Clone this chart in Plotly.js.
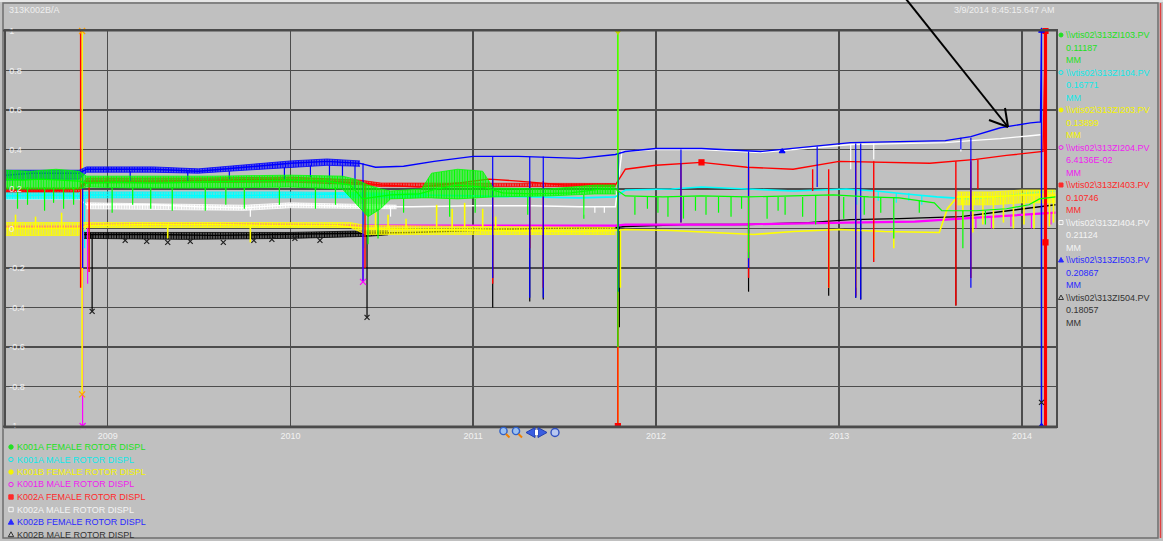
<!DOCTYPE html>
<html>
<head>
<meta charset="utf-8">
<script src="https://cdn.plot.ly/plotly-3.0.1.min.js"></script>
<style>
  html, body { margin: 0; padding: 0; background: #c0c0c0; }
  #chart { width: 1163px; height: 541px; }
</style>
</head>
<body>
<div id="chart"></div>
<script>
// ---------- axis ticks ----------
const yearTicks = ['2009-01-01', '2010-01-01', '2011-01-01', '2012-01-01', '2013-01-01', '2014-01-01'];
const yearLabels = ['2009', '2010', '2011', '2012', '2013', '2014'];
const valueTicks = [-1, -0.8, -0.6, -0.4, -0.2, 0, 0.2, 0.4, 0.6, 0.8, 1];
const valueLabels = ['-1', '-0.8', '-0.6', '-0.4', '-0.2', '0', '0.2', '0.4', '0.6', '0.8', '1'];

// ---------- pen descriptions ----------
const penNames = ['K001A FEMALE ROTOR DISPL', 'K001A MALE ROTOR DISPL', 'K001B FEMALE ROTOR DISPL', 'K001B MALE ROTOR DISPL',
                  'K002A FEMALE ROTOR DISPL', 'K002A MALE ROTOR DISPL', 'K002B FEMALE ROTOR DISPL', 'K002B MALE ROTOR DISPL'];
const penTags = ['\\\\vtis02\\313ZI103.PV', '\\\\vtis02\\313ZI104.PV', '\\\\vtis02\\313ZI203.PV', '\\\\vtis02\\313ZI204.PV',
                 '\\\\vtis02\\313ZI403.PV', '\\\\vtis02\\313ZI404.PV', '\\\\vtis02\\313ZI503.PV', '\\\\vtis02\\313ZI504.PV'];
const penReadings = ['0.11187', '0.16771', '0.13899', '6.4136E-02', '0.10746', '0.21124', '0.20867', '0.18057'];
const penUnits = ['MM', 'MM', 'MM', 'MM', 'MM', 'MM', 'MM', 'MM'];

// ---------- K001A female (green) ----------
const green = [['2008-06-12',0.25],['2008-07-15',0.245],['2008-08-20',0.25],['2008-09-25',0.245],['2008-11-05',0.24],['2008-11-20',0.23],
  ['2009-01-15',0.235],['2009-04-01',0.23],['2009-07-01',0.235],['2009-10-01',0.24],['2010-01-01',0.245],['2010-03-15',0.24],['2010-05-01',0.22],
  ['2010-05-25',0.15],['2010-06-20',0.16],['2010-07-20',0.17],['2010-09-15',0.175],['2010-10-20',0.2],['2010-12-01',0.22],['2011-01-20',0.21],
  ['2011-03-01',0.18],['2011-05-01',0.175],['2011-07-15',0.18],['2011-09-15',0.2],['2011-10-12',0.2],['2011-11-01',0.165],['2012-01-15',0.16],
  ['2012-04-01',0.165],['2012-07-01',0.16],['2012-10-01',0.165],['2012-12-20',0.17],['2013-03-01',0.16],['2013-05-01',0.155],['2013-07-10',0.13],
  ['2013-07-25',0.09],['2013-10-01',0.09],['2013-12-01',0.1],['2014-01-15',0.12],['2014-02-05',0.15],['2014-03-09',0.16]];
const greenBand = [['2008-06-12',0.295,0.2],['2008-08-01',0.29,0.2],['2008-09-20',0.3,0.2],['2008-11-05',0.29,0.2],['2008-11-20',0.265,0.21],
  ['2009-03-01',0.265,0.205],['2009-08-01',0.265,0.205],['2010-01-01',0.27,0.21],['2010-04-15',0.265,0.2],['2010-05-10',0.25,0.13],['2010-06-05',0.22,0.06],
  ['2010-06-30',0.2,0.1],['2010-07-20',0.19,0.15],['2010-09-20',0.2,0.155],['2010-10-10',0.28,0.155],['2010-12-01',0.3,0.15],['2011-01-20',0.29,0.155],
  ['2011-02-10',0.205,0.16],['2011-06-01',0.2,0.165],['2011-09-01',0.22,0.175],['2011-10-12',0.22,0.175]];
const greenDips = [['2008-07-05',0.21,0.1],['2008-07-25',0.21,0.12],['2008-08-28',0.21,0.09],['2008-09-15',0.21,0.13],['2008-10-05',0.21,0.1],
  ['2008-10-25',0.21,0.12],['2009-01-10',0.21,0.08],['2009-02-20',0.21,0.12],['2009-03-28',0.21,0.1],['2009-05-10',0.21,0.09],['2009-07-15',0.21,0.09],
  ['2009-08-25',0.21,0.12],['2009-10-01',0.21,0.1],['2009-12-10',0.21,0.12],['2010-02-20',0.21,0.1],['2010-04-01',0.21,0.12],['2010-06-05',0.1,-0.08],
  ['2010-06-25',0.1,-0.05],['2010-08-15',0.15,0.08],['2010-11-15',0.15,0.06],['2011-01-05',0.15,0.08],['2011-04-20',0.16,0.07],['2011-08-10',0.17,0.05],
  ['2011-10-17',1.0,-0.6],['2011-11-20',0.16,0.07],['2011-12-15',0.16,0.1],['2012-01-05',0.16,0.08],['2012-01-25',0.16,0.06],['2012-02-25',0.16,0.05],
  ['2012-03-20',0.16,0.09],['2012-04-10',0.16,0.07],['2012-05-05',0.16,0.08],['2012-05-30',0.16,0.06],['2012-06-20',0.16,0.1],['2012-07-04',0.16,-0.15],
  ['2012-08-10',0.16,0.05],['2012-09-01',0.16,0.09],['2012-09-15',0.16,0.07],['2012-10-20',0.16,0.06],['2012-11-15',0.17,0.02],['2013-01-10',0.16,0.05],
  ['2013-02-20',0.16,0.07],['2013-03-25',0.16,0.08],['2013-04-20',0.16,-0.05],['2013-06-10',0.14,0.08],['2013-09-05',0.09,-0.1],['2013-10-20',0.09,0.02]];
const greenMarks = [['2011-10-17',1.0]];

// ---------- K001A male (cyan) ----------
const cyan = [['2008-06-12',0.165],['2008-09-01',0.17],['2008-11-05',0.165],['2008-11-25',0.17],['2009-04-01',0.17],['2009-08-01',0.165],
  ['2009-12-01',0.17],['2010-04-01',0.175],['2010-06-01',0.17],['2010-09-01',0.17],['2011-01-01',0.165],['2011-05-01',0.16],['2011-08-01',0.155],
  ['2011-10-12',0.16],['2011-11-01',0.195],['2012-02-01',0.2],['2012-04-01',0.21],['2012-07-01',0.2],['2012-10-01',0.19],['2013-01-15',0.2],
  ['2013-03-15',0.19],['2013-05-15',0.175],['2013-07-15',0.16],['2013-09-15',0.15],['2013-11-15',0.16],['2014-01-15',0.18],['2014-03-09',0.19]];
const cyanBand = [['2008-06-12',0.185,0.15],['2008-11-05',0.185,0.15],['2008-11-25',0.185,0.155],['2010-01-01',0.185,0.155],['2010-07-01',0.18,0.155],
  ['2010-10-01',0.178,0.16]];
const cyanDips = [['2008-11-16',0.16,-0.1],['2010-05-28',0.17,-0.1],['2011-10-18',0.16,-0.3],['2013-02-05',0.19,0.12],['2013-03-20',0.19,0.14],
  ['2013-04-25',0.18,0.13],['2013-05-20',0.18,0.14],['2013-06-15',0.17,0.12]];

// ---------- K001B female (yellow) ----------
const yellow = [['2008-06-12',0.0],['2008-09-01',0.0],['2008-11-05',0.0],['2008-11-20',0.015],['2009-04-01',0.02],['2009-08-01',0.02],
  ['2009-12-01',0.015],['2010-04-01',0.015],['2010-06-01',0.0],['2010-09-01',-0.005],['2011-01-01',-0.01],['2011-05-01',-0.015],['2011-08-01',-0.015],
  ['2011-10-12',-0.01],['2011-11-01',-0.005],['2012-02-01',-0.01],['2012-05-01',-0.02],['2012-07-15',-0.03],['2012-10-01',-0.015],['2013-01-01',-0.005],
  ['2013-04-01',-0.015],['2013-07-20',-0.02],['2013-08-05',0.1],['2013-08-25',0.16],['2013-11-01',0.16],['2014-01-01',0.17],['2014-03-09',0.17]];
const yellowBand = [['2008-06-12',0.03,-0.035],['2008-11-05',0.03,-0.035],['2008-11-20',0.03,0.005],['2010-05-01',0.03,0.005],['2010-06-01',0.015,-0.03],
  ['2011-10-12',0.005,-0.03]];
const yellowLateBand = [['2013-08-25',0.185,0.12],['2013-11-01',0.185,0.12],['2014-01-01',0.195,0.13],['2014-03-09',0.195,0.13]];
const yellowDips = [['2008-07-01',0.0,0.07],['2008-08-10',0.0,0.06],['2008-10-01',0.0,0.08],['2008-11-11',1.0,-0.84],['2009-05-01',0.02,-0.05],
  ['2009-10-13',0.02,-0.07],['2010-06-20',0.0,0.08],['2010-07-15',0.0,0.07],['2010-08-20',0.0,0.05],['2010-10-20',0.0,0.12],['2010-11-20',0.0,0.1],
  ['2010-12-15',0.0,0.13],['2011-01-20',0.0,0.1],['2011-02-15',0.0,0.06],['2011-10-17',1.0,-1.0],['2011-10-22',-0.01,-0.3],['2012-07-04',-0.03,-0.12],
  ['2012-12-11',-0.01,-0.3],['2013-02-03',-0.01,-0.3],['2013-03-11',-0.01,-0.15],['2013-04-20',-0.01,-0.1],['2013-09-05',0.16,0.0],['2013-09-25',0.16,-0.02],
  ['2013-10-15',0.16,0.02],['2013-11-05',0.16,0.0],['2013-11-25',0.16,0.03],['2013-12-15',0.16,0.0],['2014-01-05',0.17,0.02],['2014-01-25',0.17,0.0],
  ['2014-02-25',0.17,0.01],['2014-03-05',0.17,0.03]];
const yellowMarks = [['2008-11-11',1.0],['2008-11-11',-0.84]];

// ---------- K001B male (magenta) ----------
const magenta = [['2008-06-12',0.01],['2008-11-05',0.01],['2008-11-25',0.02],['2009-06-01',0.022],['2010-01-01',0.02],['2010-06-01',0.015],
  ['2011-01-01',0.015],['2011-10-12',0.015],['2011-11-01',0.02],['2012-06-01',0.02],['2013-01-15',0.03],['2013-06-01',0.035],['2013-09-01',0.05],
  ['2013-12-01',0.065],['2014-03-09',0.08]];
const magentaDips = [['2008-11-12',0.02,-1.0],['2008-11-22',0.02,-0.28],['2010-05-26',0.02,-0.27],['2011-10-18',0.02,-0.25],['2013-10-01',0.05,0.0],
  ['2013-11-01',0.06,0.0],['2013-12-10',0.065,0.01],['2014-01-20',0.07,0.0],['2014-02-28',0.08,0.02]];
const magentaMarks = [['2008-11-12',-1.0],['2010-05-26',-0.27]];

// ---------- K002A female (red) ----------
const red = [['2008-06-12',0.19],['2008-09-01',0.19],['2008-11-05',0.2],['2008-11-20',0.24],['2009-04-01',0.24],['2009-08-01',0.245],
  ['2009-12-01',0.25],['2010-03-01',0.24],['2010-05-20',0.23],['2010-07-01',0.22],['2010-09-15',0.21],['2010-12-01',0.23],['2011-02-01',0.25],
  ['2011-04-01',0.24],['2011-07-01',0.22],['2011-10-12',0.22],['2011-11-01',0.3],['2012-01-01',0.32],['2012-04-01',0.335],['2012-07-01',0.31],
  ['2012-10-01',0.3],['2013-01-01',0.34],['2013-04-01',0.335],['2013-07-01',0.33],['2013-10-01',0.35],['2013-12-01',0.37],['2014-02-12',0.39],
  ['2014-02-17',1.0],['2014-02-17',-1.0],['2014-02-17',-0.07]];
const redBand = [['2008-06-12',0.205,0.185],['2008-11-05',0.205,0.185],['2008-11-20',0.255,0.23],['2009-06-01',0.255,0.232],['2010-01-01',0.26,0.235],
  ['2010-05-20',0.245,0.222],['2010-07-01',0.23,0.212],['2011-10-12',0.228,0.212]];
const redDips = [['2008-11-08',1.0,-0.3],['2008-11-25',0.24,-0.22],['2010-05-30',0.23,-0.2],['2011-02-09',0.25,-0.28],['2011-04-24',0.24,-0.1],
  ['2011-05-21',0.24,-0.3],['2011-10-17',0.22,-1.0],['2012-02-20',0.33,0.03],['2012-07-04',0.31,-0.25],['2012-11-09',0.3,0.19],['2012-12-11',0.3,-0.3],
  ['2013-02-03',0.34,-0.34],['2013-03-11',0.34,-0.17],['2013-08-22',0.34,-0.39],['2013-09-21',0.34,-0.25],['2013-10-05',0.35,0.2],['2014-02-17',1.0,-1.0]];
const redMarks = [['2012-04-01',0.335],['2011-10-17',-1.0],['2014-02-17',1.0],['2014-02-17',-0.07]];

// ---------- K002A male (white) ----------
const white = [['2008-06-12',0.15],['2008-11-05',0.15],['2008-11-20',0.12],['2009-04-01',0.12],['2009-07-01',0.11],['2009-10-01',0.105],
  ['2010-01-01',0.12],['2010-06-01',0.11],['2010-09-01',0.11],['2011-01-01',0.115],['2011-05-01',0.115],['2011-08-01',0.11],['2011-10-12',0.11],
  ['2011-10-25',0.39],['2012-01-01',0.4],['2012-04-01',0.4],['2012-07-28',0.385],['2012-11-01',0.405],['2013-01-24',0.425],['2013-05-01',0.43],
  ['2013-08-01',0.435],['2013-09-21',0.445],['2013-11-19',0.455],['2014-01-18',0.47],['2014-02-07',0.475]];
const whiteBand = [['2008-11-20',0.13,0.1],['2009-07-01',0.122,0.097],['2009-10-01',0.118,0.092],['2010-01-01',0.13,0.105],['2010-06-01',0.122,0.1],
  ['2010-08-01',0.118,0.1]];
const whiteDips = [['2009-10-13',0.1,0.06],['2010-07-20',0.11,0.06],['2011-08-10',0.11,0.07],['2011-09-01',0.11,0.08],['2011-09-20',0.11,0.08],
  ['2013-01-24',0.425,0.3],['2013-03-11',0.43,0.35],['2013-09-01',0.44,0.39]];

// ---------- K002B female (blue) ----------
const blue = [['2008-06-12',0.27],['2008-08-01',0.28],['2008-10-01',0.28],['2008-11-05',0.28],['2008-11-20',0.30],['2009-04-01',0.30],
  ['2009-07-01',0.29],['2009-10-01',0.31],['2010-01-01',0.33],['2010-03-15',0.34],['2010-05-20',0.33],['2010-06-20',0.31],['2010-08-15',0.315],
  ['2010-10-15',0.34],['2011-01-01',0.365],['2011-04-01',0.365],['2011-08-01',0.355],['2011-10-12',0.375],['2011-11-01',0.39],['2012-01-01',0.405],
  ['2012-04-01',0.405],['2012-07-28',0.39],['2012-11-01',0.415],['2013-01-24',0.435],['2013-05-01',0.44],['2013-08-01',0.445],['2013-09-21',0.465],
  ['2013-11-19',0.51],['2014-01-18',0.535],['2014-02-07',0.54],['2014-02-09',1.0],['2014-02-09',-1.0]];
const blueBand = [['2008-06-12',0.295,0.245],['2008-09-01',0.295,0.25],['2008-11-05',0.295,0.25],['2008-11-20',0.312,0.285],['2009-04-01',0.312,0.285],
  ['2009-07-01',0.302,0.28],['2009-10-01',0.322,0.295],['2010-01-01',0.342,0.31],['2010-03-15',0.352,0.32],['2010-05-20',0.342,0.315]];
const blueDips = [['2008-11-12',0.28,-0.2],['2009-02-15',0.29,0.24],['2009-06-10',0.29,0.24],['2009-09-01',0.29,0.25],['2009-12-20',0.31,0.25],
  ['2010-02-10',0.32,0.26],['2010-03-20',0.32,0.22],['2010-04-15',0.32,0.2],['2010-05-10',0.32,0.2],['2010-05-26',0.33,-0.27],['2011-02-09',0.365,-0.25],
  ['2011-04-24',0.365,-0.35],['2011-05-21',0.365,-0.35],['2011-10-18',0.38,-0.32],['2012-02-20',0.4,0.03],['2012-07-04',0.39,-0.2],['2012-11-18',0.415,0.21],
  ['2013-02-03',0.43,-0.35],['2013-02-13',0.43,-0.36],['2013-09-01',0.46,0.4],['2013-09-21',0.46,-0.3]];
const blueMarks = [['2012-09-09',0.39],['2014-02-09',1.0],['2014-02-09',-1.0]];

// ---------- K002B male (black) ----------
const black = [['2008-11-15',-0.03],['2009-04-01',-0.03],['2009-08-01',-0.035],['2009-12-01',-0.03],['2010-04-01',-0.025],['2010-06-10',-0.02],
  ['2010-09-01',-0.02],['2011-01-01',-0.01],['2011-05-01',0.0],['2011-10-12',0.005],['2011-11-01',0.01],['2012-03-01',0.02],['2012-07-01',0.02],
  ['2012-11-01',0.03],['2013-01-24',0.045],['2013-05-01',0.05],['2013-09-01',0.06],['2013-11-19',0.085],['2014-02-07',0.11],['2014-03-09',0.12]];
const blackBand = [['2008-11-15',-0.02,-0.05],['2009-06-01',-0.02,-0.055],['2010-01-01',-0.02,-0.05],['2010-06-01',-0.012,-0.04],
  ['2010-07-15',-0.012,-0.032]];
const blackDips = [['2008-12-01',-0.03,-0.42],['2010-06-03',-0.02,-0.45],['2011-02-09',-0.01,-0.4],['2011-04-24',0.0,-0.37],['2011-05-21',0.0,-0.36],
  ['2011-10-20',0.01,-0.5],['2012-07-04',0.02,-0.32],['2012-12-11',0.03,-0.34],['2013-02-03',0.045,-0.35],['2013-02-13',0.045,-0.36],
  ['2013-08-22',0.06,-0.39],['2014-02-09',0.11,-0.88]];
const blackMarks = [['2008-12-01',-0.42],['2010-06-03',-0.45],['2014-02-09',-0.88],['2009-02-05',-0.06],['2009-03-20',-0.065],['2009-05-01',-0.07],
  ['2009-06-15',-0.065],['2009-08-20',-0.07],['2009-10-20',-0.06],['2009-11-25',-0.055],['2010-01-10',-0.05],['2010-03-01',-0.06]];

// ---------- pen colours ----------
const lineColors = { green:'#00ff00', cyan:'#00ffff', yellow:'#ffff00', magenta:'#ff00ff', red:'#ff0000', white:'#ffffff', blue:'#0000ff', black:'#000000' };
const textColors = ['#22e022', '#10e8e8', '#f4f400', '#f020f0', '#ff2a2a', '#f4f4f4', '#2a2aff', '#333333'];
const FONT = 'Arial, "Liberation Sans", sans-serif';

// ---------- trace builders ----------
function lineTrace(pts, color, width) {
  return { type:'scatter', mode:'lines', x: pts.map(p => p[0]), y: pts.map(p => p[1]),
           line:{ color, width }, hoverinfo:'skip', showlegend:false };
}
// noisy envelope: upper and lower edges, the gap hatched with fine vertical strokes
function bandTraces(rows, color) {
  const x = rows.map(r => r[0]);
  return [
    { type:'scatter', mode:'lines', x, y: rows.map(r => r[1]), line:{ color, width:0.8 }, hoverinfo:'skip', showlegend:false },
    { type:'scatter', mode:'lines', x, y: rows.map(r => r[2]), line:{ color, width:0.8 }, fill:'tonexty',
      fillcolor:'rgba(0,0,0,0)',
      fillpattern:{ shape:'|', size:2.6, solidity:0.7, fgcolor:color, bgcolor:'rgba(0,0,0,0)', fgopacity:1 },
      hoverinfo:'skip', showlegend:false }
  ];
}
function dipTrace(rows, color, width) {
  const x = [], y = [];
  rows.forEach(r => { x.push(r[0], r[0], null); y.push(r[1], r[2], null); });
  return { type:'scatter', mode:'lines', x, y, line:{ color, width }, hoverinfo:'skip', showlegend:false, connectgaps:false };
}
function markTrace(pts, color, symbol, size) {
  return { type:'scatter', mode:'markers', x: pts.map(p => p[0]), y: pts.map(p => p[1]), cliponaxis:false,
           marker:{ color, symbol, size, line:{ color, width:1.2 } }, hoverinfo:'skip', showlegend:false };
}

const traces = [];
traces.push(...bandTraces(whiteBand, lineColors.white), lineTrace(white, lineColors.white, 1.4), dipTrace(whiteDips, lineColors.white, 1.2));
traces.push(...bandTraces(cyanBand, lineColors.cyan), lineTrace(cyan, lineColors.cyan, 1.6), dipTrace(cyanDips, lineColors.cyan, 1.2));
traces.push(...bandTraces(blackBand, lineColors.black), lineTrace(black, lineColors.black, 1.4), dipTrace(blackDips, lineColors.black, 1.2));
traces.push(lineTrace(magenta, lineColors.magenta, 2.2), dipTrace(magentaDips, lineColors.magenta, 1.2));
traces.push(...bandTraces(yellowBand, lineColors.yellow), ...bandTraces(yellowLateBand, lineColors.yellow),
            lineTrace(yellow, lineColors.yellow, 1.6), dipTrace(yellowDips, lineColors.yellow, 1.6));
traces.push(...bandTraces(redBand, lineColors.red), lineTrace(red, lineColors.red, 1.4), dipTrace(redDips, lineColors.red, 1.4));
traces.push(dipTrace([redDips[redDips.length - 1]], lineColors.red, 3.2));
traces.push(...bandTraces(blueBand, lineColors.blue), lineTrace(blue, lineColors.blue, 1.4), dipTrace(blueDips, lineColors.blue, 1.2));
traces.push(...bandTraces(greenBand, lineColors.green), lineTrace(green, lineColors.green, 1.2), dipTrace(greenDips, lineColors.green, 1.2));
traces.push(markTrace(blackMarks, '#202020', 'x-thin', 5));
traces.push(markTrace(magentaMarks, lineColors.magenta, 'x-thin', 6));
traces.push(markTrace(yellowMarks, '#ffa000', 'x-thin', 6));
traces.push(markTrace(greenMarks, '#c0d000', 'triangle-down', 6));
traces.push(markTrace(redMarks, lineColors.red, 'square', 5));
traces.push(markTrace(blueMarks, lineColors.blue, 'triangle-up', 5));

// ---------- pixel helpers for decorations outside the data ----------
const L = 6, R = 1056, T = 31, B = 426;
const px = x => (x - L) / (R - L);
const py = y => (B - y) / (B - T);

function lineShape(x0, y0, x1, y1, color, width) {
  return { type:'line', xref:'paper', yref:'paper', x0:px(x0), y0:py(y0), x1:px(x1), y1:py(y1), line:{ color, width } };
}
function rectShape(x0, y0, x1, y1, fill, color, width) {
  return { type:'rect', xref:'paper', yref:'paper', x0:px(x0), y0:py(y0), x1:px(x1), y1:py(y1),
           fillcolor: fill, line:{ color: color || 'rgba(0,0,0,0)', width: width || 0 } };
}
function circleShape(cx, cy, r, fill, color, width) {
  return { type:'circle', xref:'paper', yref:'paper', x0:px(cx - r), y0:py(cy + r), x1:px(cx + r), y1:py(cy - r),
           fillcolor: fill, line:{ color, width } };
}
function pathShape(points, fill, color, width) {
  const d = points.map((p, i) => (i ? 'L' : 'M') + px(p[0]) + ',' + py(p[1])).join(' ') + ' Z';
  return { type:'path', xref:'paper', yref:'paper', path:d, fillcolor: fill, line:{ color, width } };
}
function glyph(kind, cx, cy, s, color) {
  if (kind === 'dot') return circleShape(cx, cy, s, color, color, 1);
  if (kind === 'ring') return circleShape(cx, cy, s, 'rgba(0,0,0,0)', color, 1);
  if (kind === 'sq') return rectShape(cx - s, cy - s, cx + s, cy + s, color, color, 1);
  if (kind === 'osq') return rectShape(cx - s, cy - s, cx + s, cy + s, 'rgba(0,0,0,0)', color, 1);
  if (kind === 'tri') return pathShape([[cx, cy - s - 0.5], [cx + s + 0.5, cy + s], [cx - s - 0.5, cy + s]], color, color, 1);
  return pathShape([[cx, cy - s - 0.5], [cx + s + 0.5, cy + s], [cx - s - 0.5, cy + s]], 'rgba(0,0,0,0)', color, 1);
}
function text(x, y, str, color, size) {
  return { xref:'paper', yref:'paper', x:px(x), y:py(y), text:str, showarrow:false, xanchor:'left', yanchor:'middle',
           font:{ family:FONT, size: size || 9, color }, borderpad:0 };
}

const glyphKinds = ['dot', 'ring', 'dot', 'ring', 'sq', 'osq', 'tri', 'otri'];

const shapes = [
  rectShape(0, 0, 1163, 2, '#e6e6e6'),
  rectShape(3, 3, 1158, 538, 'rgba(0,0,0,0)', '#6e6e6e', 1.5),
  lineShape(1160.5, 3, 1160.5, 538, '#e04040', 1.5),
  lineShape(3, 30.5, 1057, 30.5, '#4a4a4a', 2),
  lineShape(3, 426.5, 1057, 426.5, '#4a4a4a', 2),
  lineShape(3, 428.5, 1057, 428.5, '#9a9a9a', 1),
  // pointer arrow
  lineShape(906, -1, 1008, 127, '#000000', 2),
  lineShape(1008, 127, 1005, 108, '#000000', 2),
  lineShape(1008, 127, 989, 120, '#000000', 2),
  // zoom / pan buttons under the time axis
  circleShape(503.5, 431, 3.6, '#9cc0f0', '#2f5fc8', 1.4),
  lineShape(506, 434, 509.5, 437.5, '#f08000', 2),
  circleShape(516, 431, 3.6, '#9cc0f0', '#2f5fc8', 1.4),
  lineShape(518.5, 434, 522, 437.5, '#f08000', 2),
  pathShape([[526, 432.5], [535, 427.5], [535, 437.5]], '#3a5ee0', '#2440b0', 1),
  pathShape([[547, 432.5], [538, 427.5], [538, 437.5]], '#3a5ee0', '#2440b0', 1),
  rectShape(535, 430, 538, 435, '#ffffff'),
  circleShape(555, 432.5, 4, '#b8c8f0', '#3050c0', 1.4)
];

const annotations = [
  text(8, 10, '313K002B/A', '#efefef', 9),
  text(953, 10, '3/9/2014 8:45:15.647 AM', '#efefef', 9)
];

for (let i = 0; i < 8; i++) {
  const y0 = 35 + 37.5 * i;
  shapes.push(glyph(glyphKinds[i], 1061, y0, 2, textColors[i]));
  annotations.push(text(1065, y0, penTags[i], textColors[i], 9));
  annotations.push(text(1065, y0 + 12.5, penReadings[i], textColors[i], 9));
  annotations.push(text(1065, y0 + 25, penUnits[i], textColors[i], 9));
  const yb = 447 + 12.5 * i;
  shapes.push(glyph(glyphKinds[i], 11, yb, 2.2, textColors[i]));
  annotations.push(text(16, yb, penNames[i], textColors[i], 9));
}

const gridColor = '#4c4c4c';
const layout = {
  width: 1163, height: 541,
  margin: { l: L, r: 1163 - R, t: T, b: 541 - B, pad: 0 },
  paper_bgcolor: '#c0c0c0', plot_bgcolor: '#c0c0c0',
  showlegend: false,
  font: { family: FONT, size: 9, color: '#f2f2f2' },
  xaxis: {
    type: 'date', range: ['2008-06-12', '2014-03-10'],
    tickmode: 'array', tickvals: yearTicks, ticktext: yearLabels,
    showgrid: true, gridcolor: gridColor, gridwidth: 1.6, zeroline: false,
    showline: true, mirror: true, linecolor: gridColor, linewidth: 2,
    ticks: '', ticklabelstandoff: 0, tickfont: { family: FONT, size: 9, color: '#f2f2f2' }, fixedrange: true
  },
  yaxis: {
    range: [-1, 1], tickmode: 'array', tickvals: valueTicks, ticktext: valueLabels,
    showgrid: true, gridcolor: gridColor, gridwidth: 1.6, zeroline: false,
    showline: true, mirror: true, linecolor: gridColor, linewidth: 2,
    ticks: '', ticklabelposition: 'inside', ticklabeloverflow: 'allow', ticklabelstandoff: 2,
    tickfont: { family: FONT, size: 9, color: '#f2f2f2' }, fixedrange: true
  },
  shapes, annotations
};

Plotly.newPlot('chart', traces, layout, { displayModeBar: false, staticPlot: true });
</script>
</body>
</html>
